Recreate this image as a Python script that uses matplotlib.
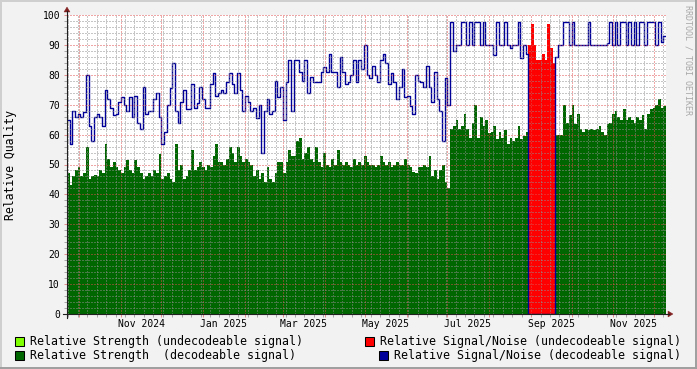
import numpy as np
import pandas as pd
import matplotlib
matplotlib.use("Agg")
import matplotlib.pyplot as plt
import matplotlib.dates as mdates
from matplotlib.patches import Rectangle, Polygon
from matplotlib.lines import Line2D
from matplotlib.ticker import MultipleLocator, NullFormatter
import matplotlib.transforms as mtransforms

plt.rcParams['font.family'] = ['DejaVu Sans Mono']

# ---------------- data ----------------
start_date = "2024-09-22"
step_days = 2

# Relative Strength (decodeable signal), one value per 2 days
strength_decodeable = [
    47, 43, 46, 48, 49, 46, 47, 56, 45, 46, 46.5, 46, 48, 47, 57, 52, 49, 51, 49, 48,
    47, 49, 51.5, 48, 47, 51.5, 49, 47, 45, 46, 47, 46, 48, 47, 53.5, 45, 46,
    47, 45, 44, 57, 48, 50, 45, 46, 48, 55, 48, 49, 51, 49, 48, 50, 49, 53, 57, 51,
    51, 50, 52, 56, 54, 51, 56, 53, 51, 52, 51, 50, 46, 48, 45, 47, 44,
    49, 45, 44, 47, 51, 51, 47, 51, 55, 53, 53, 58, 59, 52, 54, 56, 52, 51, 56, 51,
    49, 53.7, 50, 49, 52, 50, 55, 51, 50, 51, 50, 49, 52, 50, 51, 50, 53,
    51, 50, 50, 49, 50, 53, 51, 50, 51, 49, 50, 51, 50, 50, 52, 50, 49, 47.5, 47, 49,
    49, 50, 49, 53, 46, 48, 45, 48, 50, 44, 42, 62, 63, 65, 62, 63, 67,
    62, 59, 64, 70, 59, 66, 63, 65, 60.4, 61, 63, 58.6, 61, 59, 61.5, 57, 59, 58, 59, 63,
    58.5, 59.5, 61, None, None, None, None, None, None, None, None, None, None,
    59.8, 59.8, 60, 70,
    64, 66.5, 70, 63.4, 67, 62, 61, 62, 61.5, 62, 61.5, 62, 63, 61, 60, 63.4, 64, 67, 68, 66,
    65, 68.7, 65, 66, 65, 64, 66, 65, 66.5, 62, 67, 68.5, 69, 70, 72, 69, 69.5,
]

# Relative Signal/Noise (decodeable signal), one value per 2 days
snr_decodeable = [
    65, 57, 68, 66, 67, 66, 67.5, 80, 63, 58, 66, 67, 66, 63, 75, 72, 69, 66.5, 67, 71,
    72.5, 70, 68, 72.5, 66, 73, 64, 62, 76, 67, 68, 68, 72, 74, 66, 57, 61,
    70, 75.5, 84, 68, 64, 71, 75, 68.5, 68.5, 77, 69, 70.5, 76, 72, 69, 69, 77, 80.5, 73, 74,
    75, 74, 77.7, 80.5, 77, 73.8, 80.5, 75, 68, 73, 71, 68, 69, 65.4, 70, 54, 68,
    72, 67, 68, 78, 72.7, 76, 65, 77.7, 85, 68, 85, 85, 81, 78, 85, 73.8, 79.4, 77.7, 77.7, 77.7,
    81, 82.7, 81, 87, 81, 81, 76, 86, 81, 77, 77.7, 80, 85, 77.7, 85, 82, 90,
    80, 79, 83, 80, 77.7, 85, 87, 84, 77, 80.5, 77.7, 72, 76, 82, 72.7, 73, 69.5, 67, 80, 78,
    77.7, 76, 83, 76, 71, 81, 72, 68, 58, 79, 70, 97.8, 88, 90, 90, 97.8, 97.8,
    90, 97.8, 90, 97.8, 97.8, 90, 97.8, 90, 90, 90, 86.5, 97.8, 90, 90, 97.8, 90, 88.8, 90, 90, 97.8,
    85.5, 90, 87, 0, 0, 0, 0, 0, 0, 0, 0, 0, 0,
    86, 90, 90, 97.8,
    97.8, 90, 97.8, 90, 90, 90, 90, 90, 97.8, 90, 90, 90, 90, 90, 90, 90.5, 97.8, 90, 97.8, 90,
    97.8, 97.8, 90, 97.8, 90, 97.8, 90, 97.8, 97.8, 90, 97.8, 97.8, 97.8, 90, 97.8, 91, 93,
]

# undecodeable period
undecodeable_start = "2025-08-30"
snr_undecodeable = [90, 97, 90, 85, 85, 87, 85, 97, 89, 84]
strength_undecodeable = [60, 61, 59, 60, 60, 61, 60, 59, 60, 60]

x_tick_labels = ["Nov 2024", "Jan 2025", "Mar 2025", "May 2025", "Jul 2025", "Sep 2025", "Nov 2025"]
y_ticks = [0, 10, 20, 30, 40, 50, 60, 70, 80, 90, 100]

legend_labels = [
    "Relative Strength (undecodeable signal)",
    "Relative Strength  (decodeable signal)",
    "Relative Signal/Noise (undecodeable signal)",
    "Relative Signal/Noise (decodeable signal)",
]

# ---------------- style ----------------
C_STR_UND = "#80FF00"
C_STR_DEC = "#006600"
C_SNR_UND = "#FF0000"
C_SNR_DEC = "#000099"
BACK = "#F2F2F2"
GRID = (0.56, 0.56, 0.56, 0.42)
MGRID = (0.87, 0.31, 0.31, 0.42)
TICK_MINOR = (0.56, 0.56, 0.56, 0.75)
TICK_MAJOR = (0.87, 0.31, 0.31, 0.60)
AXIS = "#202020"
ARROW = (0.5, 0.12, 0.12)

W, H = 697, 369
fig = plt.figure(figsize=(W / 100, H / 100), dpi=100, facecolor=BACK)
ax = fig.add_axes([67 / W, 1 - 314 / H, 599 / W, 299 / H])
ax.set_facecolor("white")


def ext(v):
    a = np.array(v, dtype=float)
    return np.append(a, a[-1])


t = pd.date_range(start_date, periods=len(strength_decodeable) + 1, freq=f"{step_days}D")
tu = pd.date_range(undecodeable_start, periods=len(snr_undecodeable) + 1, freq=f"{step_days}D")

ax.fill_between(tu, 0, ext(strength_undecodeable), step="post", color=C_STR_UND, linewidth=0, zorder=1)
ax.fill_between(t, 0, np.nan_to_num(ext(strength_decodeable)), step="post", color=C_STR_DEC,
                linewidth=0, zorder=1.1)
ax.fill_between(tu, 0, ext(snr_undecodeable), step="post", color=C_SNR_UND, linewidth=0, zorder=1.2)
ax.plot(t, ext(snr_decodeable), drawstyle="steps-post", color=C_SNR_DEC, lw=1.0, zorder=2)

ax.set_xlim(t[0], t[-1])
ax.set_ylim(0, 100)

ax.xaxis.set_major_locator(mdates.MonthLocator())
ax.xaxis.set_minor_locator(mdates.WeekdayLocator(byweekday=mdates.MO))
ax.xaxis.set_major_formatter(NullFormatter())
ax.xaxis.set_minor_formatter(NullFormatter())
ax.set_yticks(y_ticks)
ax.set_yticklabels([str(v) for v in y_ticks], fontsize=7)
ax.yaxis.set_minor_locator(MultipleLocator(2))

ax.grid(which="minor", color=GRID, linestyle=(0, (1, 2)), linewidth=0.72)
ax.grid(which="major", color=MGRID, linestyle=(0, (1, 2)), linewidth=0.72)
ax.set_axisbelow(False)

ax.tick_params(which="major", direction="out", length=2, width=0.72, color=TICK_MAJOR, pad=3)
ax.tick_params(which="minor", direction="out", length=2, width=0.72, color=TICK_MINOR)
for s in ax.spines.values():
    s.set_visible(False)

# x labels centered mid-month
trans = mtransforms.blended_transform_factory(ax.transData, ax.transAxes)
for lab in x_tick_labels:
    pos = pd.to_datetime(lab, format="%b %Y") + pd.Timedelta(days=15)
    ax.text(pos, -10 / 299, lab, transform=trans, ha="center", va="center", fontsize=7)


def fx(x):
    return x / W


def fy(y):
    return 1 - y / H


# axes lines and arrows
fig.add_artist(Line2D([fx(67), fx(67)], [fy(318), fy(11)], color=AXIS, lw=0.8))
fig.add_artist(Line2D([fx(63), fx(669)], [fy(314), fy(314)], color=AXIS, lw=0.8))
fig.add_artist(Polygon([(fx(64), fy(12)), (fx(70), fy(12)), (fx(67), fy(7))], closed=True,
                       facecolor=ARROW, edgecolor=ARROW, lw=0.3))
fig.add_artist(Polygon([(fx(668), fy(311)), (fx(668), fy(317)), (fx(673), fy(314))], closed=True,
                       facecolor=ARROW, edgecolor=ARROW, lw=0.3))

# frame
fig.add_artist(Line2D([0, 1], [fy(0.7), fy(0.7)], color="#CFCFCF", lw=1.4))
fig.add_artist(Line2D([fx(0.7), fx(0.7)], [0, 1], color="#CFCFCF", lw=1.4))
fig.add_artist(Line2D([0, 1], [fy(H - 0.7), fy(H - 0.7)], color="#9E9E9E", lw=1.4))
fig.add_artist(Line2D([fx(W - 0.7), fx(W - 0.7)], [0, 1], color="#9E9E9E", lw=1.4))

# y label and watermark
fig.text(fx(11), fy(165), "Relative Quality", rotation=90, ha="center", va="center", fontsize=8.3)
fig.text(fx(688), fy(5), "RRDTOOL / TOBI OETIKER", rotation=270, ha="center", va="top",
         fontsize=6, color="#A8A8A8")

# legend
legend_items = [
    (15, 337, C_STR_UND, 30, 341.5, legend_labels[0]),
    (15, 351, C_STR_DEC, 30, 355.5, legend_labels[1]),
    (365, 337, C_SNR_UND, 380, 341.5, legend_labels[2]),
    (379, 351, C_SNR_DEC, 394, 355.5, legend_labels[3]),
]
for bx, by, col, tx, ty, lab in legend_items:
    fig.add_artist(Rectangle((fx(bx), fy(by + 9)), 9 / W, 9 / H, facecolor=col,
                             edgecolor="black", lw=0.75))
    fig.text(fx(tx), fy(ty), lab, ha="left", va="center", fontsize=8.4)

fig.savefig("out.png", dpi=100, facecolor=BACK)
